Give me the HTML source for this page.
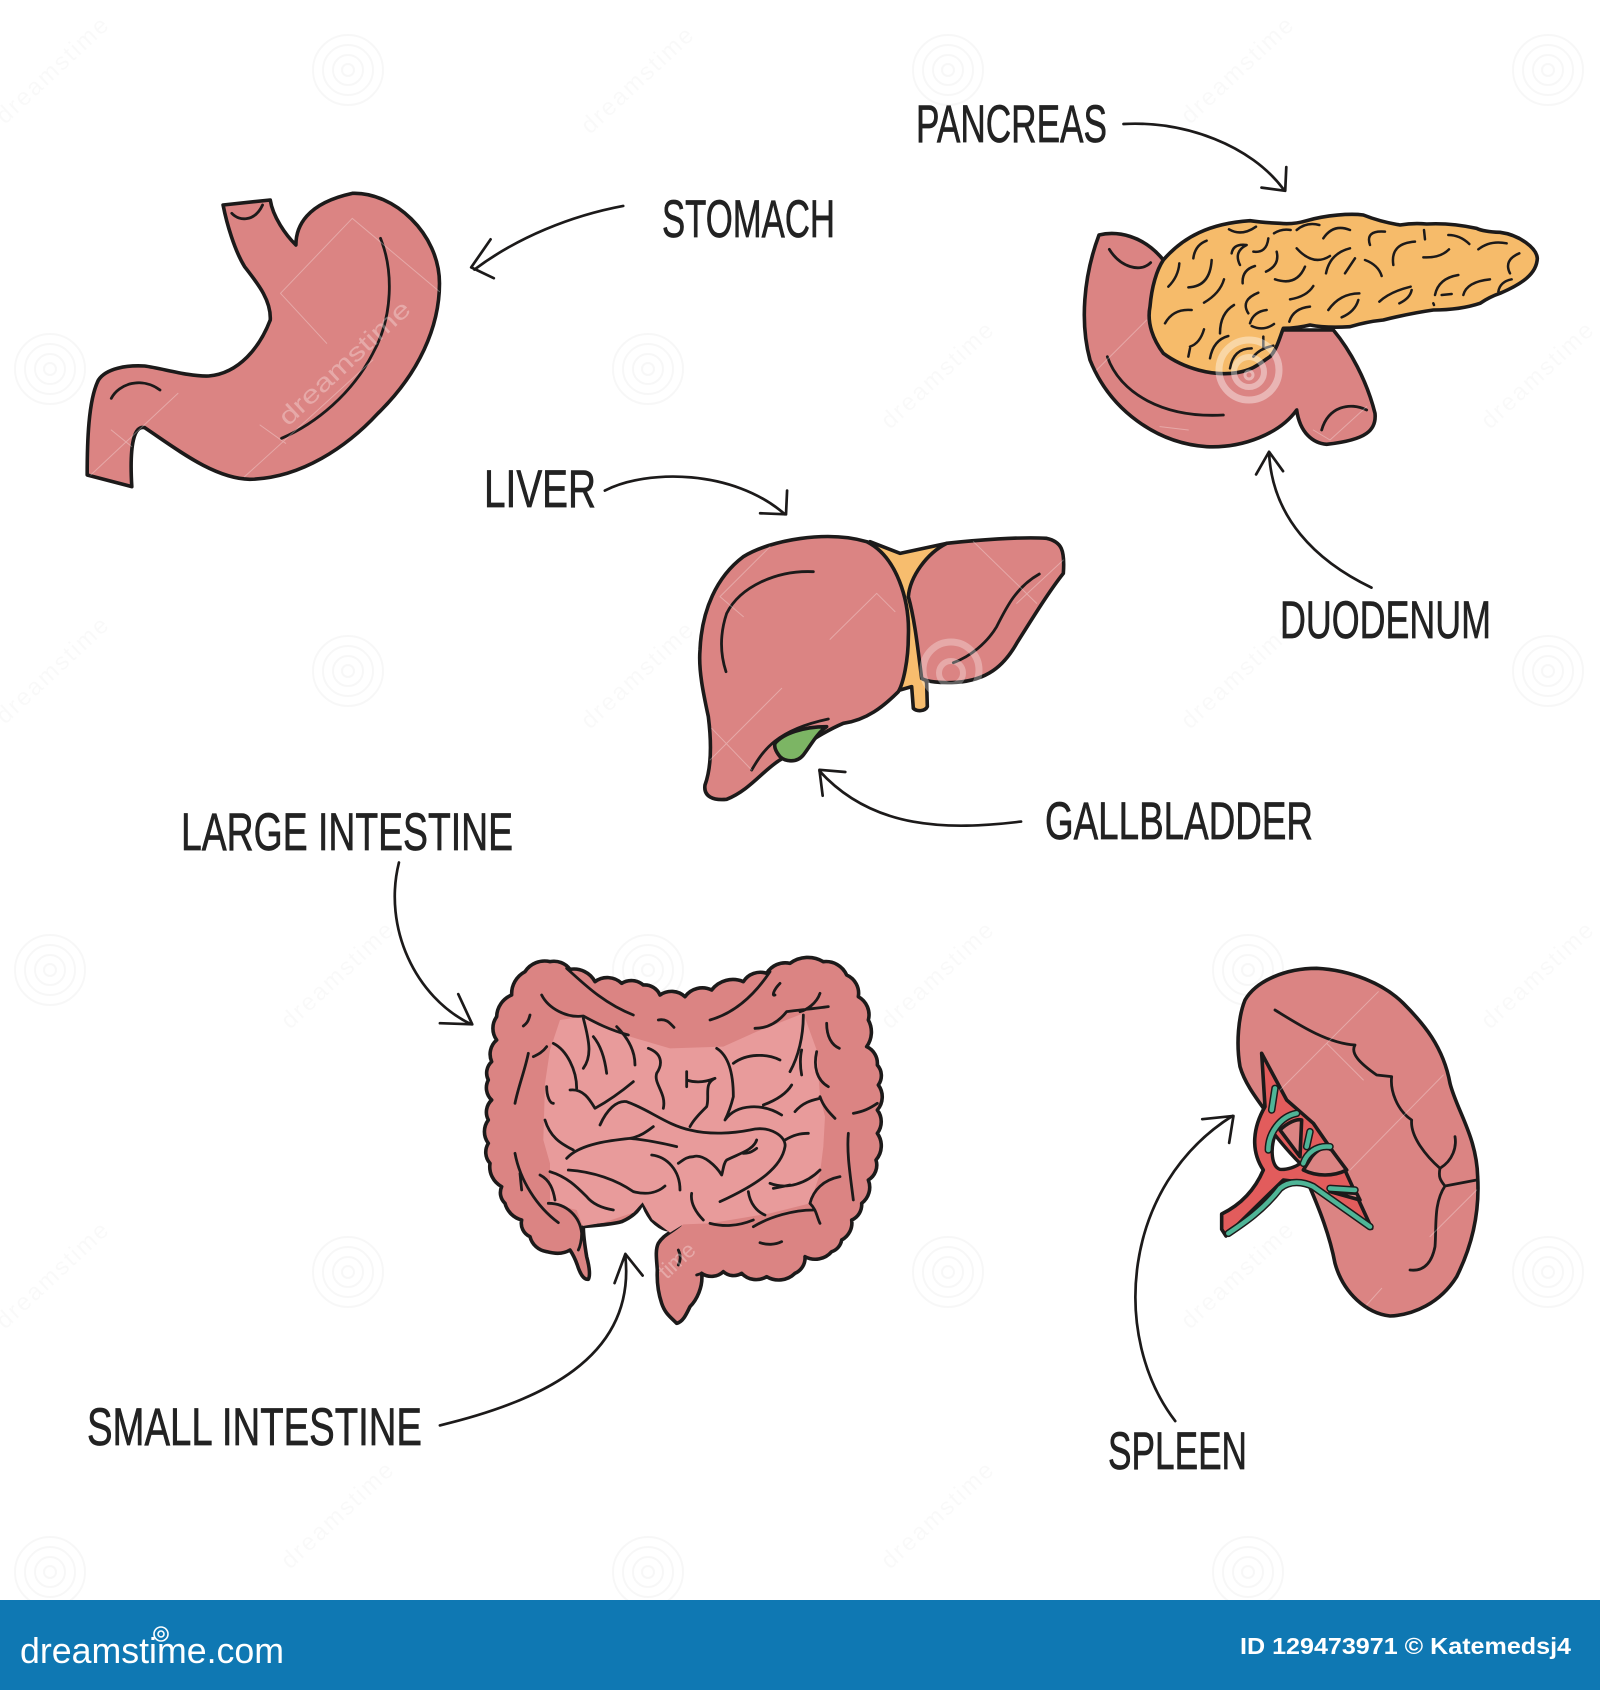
<!DOCTYPE html>
<html><head><meta charset="utf-8"><style>
html,body{margin:0;padding:0;background:#fff}
svg{display:block}
path{vector-effect:non-scaling-stroke;stroke-linejoin:round;stroke-linecap:round}
.o{stroke:#1c1a1a;stroke-width:3.6;fill:#db8483}
.l{fill:none;stroke:#1c1a1a;stroke-width:2.8}
.t{fill:none;stroke:#1c1a1a;stroke-width:2.5}
.a{fill:none;stroke:#1c1a1a;stroke-width:2.7}
.w{fill:none;stroke:#fff;stroke-opacity:.3;stroke-width:1}
.lb{font-family:"Liberation Sans",sans-serif;font-size:53px;fill:#222;stroke:#222;stroke-width:.7}
.wm{font-family:"Liberation Sans",sans-serif;font-size:24px;fill:#000;fill-opacity:.022;letter-spacing:2px}
</style></head><body>
<svg width="1600" height="1690" viewBox="0 0 1600 1690" xmlns="http://www.w3.org/2000/svg">
<defs><g id="sp" fill="none" stroke="#000" stroke-opacity=".03" stroke-width="2"><circle r="35"/><circle r="25"/><circle r="15"/><circle r="6"/></g></defs>
<rect width="1600" height="1690" fill="#fff"/>
<use href="#sp" x="348" y="70"/><use href="#sp" x="948" y="70"/><use href="#sp" x="1548" y="70"/>
<use href="#sp" x="50" y="369"/><use href="#sp" x="648" y="369"/>
<use href="#sp" x="348" y="671"/><use href="#sp" x="1548" y="671"/>
<use href="#sp" x="50" y="970"/><use href="#sp" x="648" y="970"/><use href="#sp" x="1248" y="970"/>
<use href="#sp" x="348" y="1272"/><use href="#sp" x="948" y="1272"/><use href="#sp" x="1548" y="1272"/>
<use href="#sp" x="50" y="1572"/><use href="#sp" x="648" y="1572"/><use href="#sp" x="1248" y="1572"/>
<text class="wm" transform="translate(5,125) rotate(-43)">dreamstime</text>
<text class="wm" transform="translate(590,135) rotate(-43)">dreamstime</text>
<text class="wm" transform="translate(1190,125) rotate(-43)">dreamstime</text>
<text class="wm" transform="translate(890,430) rotate(-43)">dreamstime</text>
<text class="wm" transform="translate(1490,430) rotate(-43)">dreamstime</text>
<text class="wm" transform="translate(5,725) rotate(-43)">dreamstime</text>
<text class="wm" transform="translate(590,730) rotate(-43)">dreamstime</text>
<text class="wm" transform="translate(1190,730) rotate(-43)">dreamstime</text>
<text class="wm" transform="translate(290,1030) rotate(-43)">dreamstime</text>
<text class="wm" transform="translate(890,1030) rotate(-43)">dreamstime</text>
<text class="wm" transform="translate(1490,1030) rotate(-43)">dreamstime</text>
<text class="wm" transform="translate(5,1330) rotate(-43)">dreamstime</text>
<text class="wm" transform="translate(1190,1330) rotate(-43)">dreamstime</text>
<text class="wm" transform="translate(290,1570) rotate(-43)">dreamstime</text>
<text class="wm" transform="translate(890,1570) rotate(-43)">dreamstime</text>

<!-- Stomach -->
<g transform="translate(60,160) scale(.51282,.33333)">
<path class="o" d="M318 135 L410 120 C415 170 440 225 460 255 C460 200 480 130 570 100 C650 95 740 220 740 370 C740 500 700 640 620 760 C560 860 470 955 370 958 C300 955 230 870 165 803 C145 795 135 850 140 980 L53 945 C53 850 55 720 75 660 C90 625 130 615 165 618 C200 625 250 650 290 648 C350 640 390 560 410 480 C412 420 385 370 360 320 C340 270 325 190 318 135Z"/>
<path class="l" d="M335 160 C350 185 380 185 395 135"/>
<path class="l" d="M625 235 C650 330 650 470 610 580 C570 700 500 790 432 835"/>
<path class="l" d="M100 715 C115 670 160 650 195 690"/>
<path class="w" d="M430 400 L570 175 L740 395 M430 400 L520 550 M60 945 L230 700 M360 950 L610 600 M100 810 L140 860 M390 795 L440 850"/>
</g>
<text transform="translate(288,427) rotate(-43)" font-family="Liberation Sans,sans-serif" font-size="25" fill="#fff" fill-opacity=".3" textLength="170" lengthAdjust="spacingAndGlyphs">dreamstime</text>

<!-- Pancreas + duodenum -->
<g transform="translate(1050,180) scale(.33333)">
<path class="o" d="M147 165 C200 152 280 165 340 240 L700 450 L850 450 C900 510 950 600 975 700 C980 750 950 780 830 793 C790 790 750 760 740 690 C690 760 580 805 470 800 C320 790 180 690 120 540 C90 430 100 290 147 165Z"/>
<path class="l" d="M178 208 C210 260 270 280 302 248 M172 530 C210 640 340 715 520 705 M815 750 C835 680 900 665 950 690"/>
<path class="w" d="M140 570 L290 420 M330 740 L415 750 M790 750 L840 780 L950 680"/>
<path class="o" style="fill:#f6bb6a" d="M340 240 C400 170 480 130 600 122 Q640 128 690 130 Q730 134 770 122 C830 105 900 100 940 105 Q990 125 1050 135 Q1090 128 1130 132 Q1200 128 1280 145 Q1300 155 1350 157 C1410 165 1460 205 1462 235 C1460 280 1420 310 1350 340 Q1320 350 1290 370 Q1230 390 1150 390 Q1080 400 1000 420 Q950 425 900 440 Q830 445 780 435 Q740 445 700 445 C690 470 680 510 660 530 C630 550 610 570 560 578 C490 590 400 565 340 520 C310 480 290 430 300 380 C305 320 320 270 340 240Z"/>
<path class="t" d="M537 148 Q575 170 618 140 M430 235 Q435 195 470 182 M355 320 Q385 290 388 250 M415 322 Q480 320 485 240 M462 368 Q510 340 522 298 M345 430 Q370 385 425 390 M510 460 Q510 400 552 375 M420 500 Q450 490 462 448 M415 530 L420 505 M480 535 Q490 480 535 468 M540 565 Q550 505 605 505 M610 530 Q630 505 670 497 M640 470 L640 500 M545 220 Q550 190 590 195 Q550 215 570 255 M610 215 Q650 220 655 175 M648 275 Q690 255 680 215 M578 310 Q575 270 615 258 M675 298 Q740 320 765 260 M672 160 Q695 145 722 150 M720 358 Q770 350 790 318 M595 400 Q570 360 625 338 M600 430 Q610 395 650 390 M605 438 Q640 455 672 432 M718 425 Q730 385 780 380 M740 205 Q790 260 840 228 M740 150 Q770 125 808 135 M820 175 Q850 130 900 150 M828 280 Q840 220 900 205 M885 280 L915 235 M945 240 Q985 255 995 288 M835 390 Q870 340 928 340 M875 412 Q915 395 925 360 M988 365 Q1020 335 1082 320 M1048 370 Q1080 355 1085 330 M960 195 Q945 150 1005 155 M1030 255 Q1020 190 1095 185 M1122 150 L1125 178 M1120 232 Q1170 235 1197 208 M1195 165 Q1230 165 1258 192 M1285 208 Q1320 180 1370 190 M1380 280 Q1360 240 1408 220 M1345 335 Q1350 305 1385 298 M1240 345 Q1250 305 1320 298 M1155 345 Q1165 295 1225 285 M1175 345 L1205 342 M1150 370 L1152 375"/>
</g>
<g fill="none" stroke="#fff" stroke-opacity=".4"><circle cx="1249" cy="370" r="30" stroke-width="7"/><circle cx="1249" cy="372" r="15" stroke-width="6"/><circle cx="1249" cy="375" r="4" stroke-width="3"/></g>

<!-- Liver -->
<g transform="translate(670,510) scale(.33333)">
<path class="o" style="fill:#f7bd6e" d="M600 95 L690 130 L830 100 L740 200 L745 420 L770 520 L772 590 C765 605 740 605 730 595 L725 530 L690 540Z"/>
<path class="o" d="M830 100 C920 90 1050 80 1130 85 C1175 95 1185 120 1180 190 C1140 240 1090 320 1040 400 C1000 470 950 510 860 517 C810 520 770 515 755 505 C745 430 735 330 715 260 C720 200 770 130 830 100Z"/>
<path class="o" d="M90 420 C95 300 140 200 220 140 C300 90 470 60 590 95 C680 140 720 270 715 380 C715 450 700 520 685 545 C640 590 590 630 520 640 C450 670 400 710 330 750 C280 780 240 840 170 868 C130 872 100 860 105 825 C125 770 125 700 115 620 C100 550 85 480 90 420Z"/>
<path class="l" d="M430 185 C320 180 210 230 170 310 C150 370 150 430 168 485 M1108 192 C1040 230 1010 290 980 350 C950 400 900 440 850 458 M245 780 C280 720 320 660 475 627"/>
<path class="o" style="fill:#7cb564" d="M315 700 C340 670 400 650 470 650 C440 670 420 710 400 735 C380 760 345 755 330 740 C318 725 312 710 315 700Z"/>
<path class="w" d="M480 388 L620 250 L675 305 M120 750 L335 535 M125 655 L245 780 M150 260 L300 110 M150 260 L220 320 M910 95 L1100 280 M1040 280 L1180 150"/>
</g>
<g fill="none" stroke="#fff" stroke-opacity=".3"><circle cx="951" cy="670" r="28" stroke-width="7"/><circle cx="951" cy="673" r="12" stroke-width="6"/></g>

<!-- Intestine -->
<g transform="translate(470,940) scale(.33333)">
<path class="o" d="M125 165 A75 75 0 0 1 165 95 A70 70 0 0 1 240 65 A60 60 0 0 1 300 88 A72 72 0 0 1 375 125 A62 62 0 0 1 455 130 A55 55 0 0 1 520 135 A50 50 0 0 1 570 165 A60 60 0 0 1 645 170 A64 64 0 0 1 725 150 A80 80 0 0 1 820 125 A60 60 0 0 1 890 100 A65 65 0 0 1 960 70 A90 90 0 0 1 1060 65 A68 68 0 0 1 1130 105 A60 60 0 0 1 1165 170 A62 62 0 0 1 1195 240 A75 75 0 0 1 1190 320 A55 55 0 0 1 1222 375 A48 48 0 0 1 1225 435 A60 60 0 0 1 1222 510 A58 58 0 0 1 1222 580 A65 65 0 0 1 1218 660 A52 52 0 0 1 1195 720 A60 60 0 0 1 1175 790 A50 50 0 0 1 1145 840 A58 58 0 0 1 1115 900 A44 44 0 0 1 1085 935 A65 65 0 0 1 1005 950 A50 50 0 0 1 975 1000 A70 70 0 0 1 890 1010 A60 60 0 0 1 815 1000 A46 46 0 0 1 760 995 A52 52 0 0 1 695 1000 C700 1040 680 1080 660 1100 C650 1120 640 1145 620 1150 C600 1130 585 1120 575 1090 C565 1060 560 1030 562 990 C560 960 555 930 565 910 C580 885 600 880 630 855 C600 880 575 870 545 840 C530 820 522 805 518 785 C510 810 490 830 455 845 C420 855 385 855 340 860 C340 890 345 920 350 950 C358 980 362 1005 355 1018 C340 1020 330 1000 322 975 C315 955 310 945 300 930 C275 945 250 940 230 935 A60 60 0 0 1 180 890 A44 44 0 0 1 155 840 A70 70 0 0 1 105 790 A44 44 0 0 1 95 740 A68 68 0 0 1 60 670 A50 50 0 0 1 55 610 A58 58 0 0 1 55 540 A50 50 0 0 1 65 480 A50 50 0 0 1 55 420 A46 46 0 0 1 65 365 A56 56 0 0 1 80 300 A60 60 0 0 1 80 230 A72 72 0 0 1 125 165Z"/>
<path fill="#e89b9b" d="M270 240 L340 230 L480 290 L600 325 L760 320 L860 275 L1000 220 L1040 330 L1050 470 L1065 530 L1060 620 L1050 700 L1020 790 L900 820 L720 850 L640 853 L600 878 L547 838 L518 787 L490 818 L400 848 L338 858 L320 810 L240 790 L240 670 L220 600 L225 430 L240 330Z"/>
<path class="l" d="M290 85 C340 130 400 190 490 225 M215 165 C235 205 290 235 340 228 C380 250 420 270 475 285 M720 240 C790 220 850 170 900 95 M855 265 C900 265 930 240 950 215 C990 210 1040 205 1075 200 M1050 160 C1040 190 1010 210 990 215 M930 130 C910 150 905 170 915 165 M180 225 C175 245 170 250 160 258 M565 240 C590 235 600 250 612 262 M1070 250 C1070 290 1085 315 1108 325 M175 340 C165 390 145 440 135 490 M230 320 C215 340 200 345 190 350 M135 640 C150 720 200 800 265 848 M155 750 L150 700 M235 790 C290 790 330 830 335 880 C335 900 330 920 325 930 M1135 580 C1130 640 1140 700 1150 780 M1040 335 C1030 380 1040 420 1075 440 M1050 470 C1060 500 1080 520 1095 535 M1150 520 C1180 515 1200 505 1222 490 M1020 790 C1030 750 1060 720 1110 710 M1020 790 C1040 810 1040 830 1050 850 M870 908 C890 915 915 915 935 905 M850 860 C900 830 970 810 1030 810 M720 850 C760 860 800 860 850 840 M625 930 C635 950 630 965 625 975 M695 1000 L680 1005"/>
<path class="l" d="M250 310 C290 330 320 390 320 445 M340 385 C365 350 360 310 340 235 M370 290 C395 320 405 360 410 400 M440 260 C480 300 495 340 495 375 M300 450 C340 445 360 480 375 505 C420 480 460 450 490 425 M535 325 C575 340 580 370 560 400 C550 430 590 460 580 505 M650 395 L650 440 M650 420 C680 430 710 425 735 415 C700 430 720 470 710 500 C690 520 670 540 660 560 M740 325 C780 350 790 410 790 470 C785 490 775 520 765 540 C800 490 880 490 935 525 M790 370 C830 340 890 340 930 360 M1000 225 C1000 290 985 350 960 395 M995 330 C990 350 990 380 995 405 M880 495 C920 480 950 460 965 435 M975 515 C1000 485 1030 480 1050 475 M390 555 C410 510 440 480 470 485 C540 510 590 555 660 570 C720 585 790 580 840 570 C900 555 950 590 945 620 C935 680 870 730 750 785 M945 600 C970 585 990 580 1015 580 M290 655 C330 610 430 600 480 595 C510 590 530 575 550 560 M480 595 C530 600 580 610 620 620 M860 600 C850 630 810 640 770 660 C760 670 760 690 755 705 C740 680 700 640 670 650 C650 650 640 660 625 670 M860 625 C840 640 830 640 820 640 M295 690 C370 695 440 720 490 755 C530 765 560 760 585 738 M545 645 C590 650 630 690 630 750 M240 695 C290 710 320 740 350 770 C370 795 400 805 430 810 M900 730 C950 750 1010 730 1050 690 M910 745 L960 735 M665 760 C660 790 680 820 700 840 M835 755 C840 790 860 815 885 825 M230 440 C230 470 240 490 250 490 M225 540 C240 590 270 610 310 630 M210 705 C240 720 250 750 255 780"/>
<text transform="translate(590,1020) rotate(-43)" font-family="Liberation Sans,sans-serif" font-size="66" fill="#fff" fill-opacity=".3">time</text>
</g>

<!-- Spleen -->
<g transform="translate(1200,950) scale(.33333)">
<path class="o" d="M135 150 C170 90 260 55 350 55 C450 60 550 100 610 160 C670 220 730 290 750 400 C770 480 830 560 833 680 C840 800 810 900 770 980 C720 1060 640 1095 570 1098 C500 1090 430 1030 405 940 C390 860 360 780 320 690 C300 640 270 590 235 540 C200 480 140 420 120 350 C108 280 115 200 135 150Z"/>
<path class="o" style="fill:#e25c5c" d="M185 310 L260 450 L340 520 L430 650 L515 835 L330 700 L250 690 L78 858 L65 838 L65 792 C110 770 160 730 190 660 C150 600 160 530 195 470Z"/>
<path fill="#fff" stroke="#1c1a1a" stroke-width="3.4" d="M225 555 C210 600 215 650 240 658 C260 660 290 650 300 640 C270 610 245 580 225 555Z"/>
<path class="o" d="M240 540 C260 520 290 505 305 510 L300 620Z M335 620 C360 590 380 590 395 600 L440 660 C400 680 350 680 310 660Z M390 725 L470 730 L480 750Z"/>
<path fill="none" stroke="#1c1a1a" stroke-width="7.5" stroke-linecap="butt" d="M205 600 C205 550 240 500 290 490 M85 850 C130 820 190 780 240 715 C270 690 310 695 340 710 L510 830 M310 640 C320 610 350 585 390 590 M390 715 L465 720 M225 415 L215 480 M330 545 L320 590"/>
<path fill="none" stroke="#4fb597" stroke-width="4.5" d="M205 600 C205 550 240 500 290 490 M85 850 C130 820 190 780 240 715 C270 690 310 695 340 710 L510 830 M310 640 C320 610 350 585 390 590 M390 715 L465 720 M225 415 L215 480 M330 545 L320 590"/>
<path class="l" d="M225 180 C290 220 380 280 465 285 C450 310 480 340 530 375 L575 380 C570 420 590 480 635 510 C630 560 680 620 720 655 C760 630 770 590 765 560 M720 655 C715 680 720 690 735 708 L830 690 M735 708 C700 760 710 830 705 890 C695 940 670 965 630 960"/>
<path class="w" d="M240 420 L535 125 M380 280 L490 390 M450 660 L730 375 M690 860 L830 720 M500 1065 L545 1015"/>
</g>

<!-- Arrows (source coords) -->
<g transform="scale(1.0782)">
<path class="a" d="M1042 115 C1100 112 1160 135 1190 175 M1170 174 L1192 177 L1193 155"/>
<path class="a" d="M578 191 C530 200 480 220 440 250 M455 222 L437 248 L458 258"/>
<path class="a" d="M561 455 C600 435 680 435 728 477 M730 455 L729 477 L705 476"/>
<path class="a" d="M1272 545 C1220 520 1180 480 1177 420 M1165 440 L1177 419 L1190 437"/>
<path class="a" d="M947 762 C880 770 810 770 760 715 M763 738 L760 714 L784 716"/>
<path class="a" d="M370 800 C355 860 385 925 437 950 M408 949 L438 950 L425 922"/>
<path class="a" d="M408 1322 C500 1300 590 1260 580 1165 M570 1190 L580 1163 L596 1183"/>
<path class="a" d="M1090 1318 C1030 1240 1040 1100 1143 1035 M1115 1038 L1144 1035 L1140 1060"/>
</g>

<!-- Labels -->
<text class="lb" x="916" y="142" textLength="191" lengthAdjust="spacingAndGlyphs">PANCREAS</text>
<text class="lb" x="662" y="237" textLength="173" lengthAdjust="spacingAndGlyphs">STOMACH</text>
<text class="lb" x="484" y="507" textLength="112" lengthAdjust="spacingAndGlyphs">LIVER</text>
<text class="lb" x="1280" y="638" textLength="211" lengthAdjust="spacingAndGlyphs">DUODENUM</text>
<text class="lb" x="1045" y="839" textLength="268" lengthAdjust="spacingAndGlyphs">GALLBLADDER</text>
<text class="lb" x="181" y="850" textLength="332" lengthAdjust="spacingAndGlyphs">LARGE INTESTINE</text>
<text class="lb" x="87" y="1445" textLength="335" lengthAdjust="spacingAndGlyphs">SMALL INTESTINE</text>
<text class="lb" x="1108" y="1469" textLength="139" lengthAdjust="spacingAndGlyphs">SPLEEN</text>

<!-- Footer -->
<rect x="0" y="1600" width="1600" height="90" fill="#0f78b3"/>
<text x="20" y="1663" font-family="Liberation Sans,sans-serif" font-size="36" fill="#fff" textLength="264" lengthAdjust="spacingAndGlyphs">dreamstime.com</text>
<g fill="none" stroke="#fff" stroke-width="1.6"><circle cx="161" cy="1634" r="7"/><circle cx="161" cy="1634" r="3"/></g>
<text x="1240" y="1654" font-family="Liberation Sans,sans-serif" font-size="23" font-weight="bold" fill="#fff" textLength="331" lengthAdjust="spacingAndGlyphs">ID 129473971 © Katemedsj4</text>
</svg>
</body></html>
